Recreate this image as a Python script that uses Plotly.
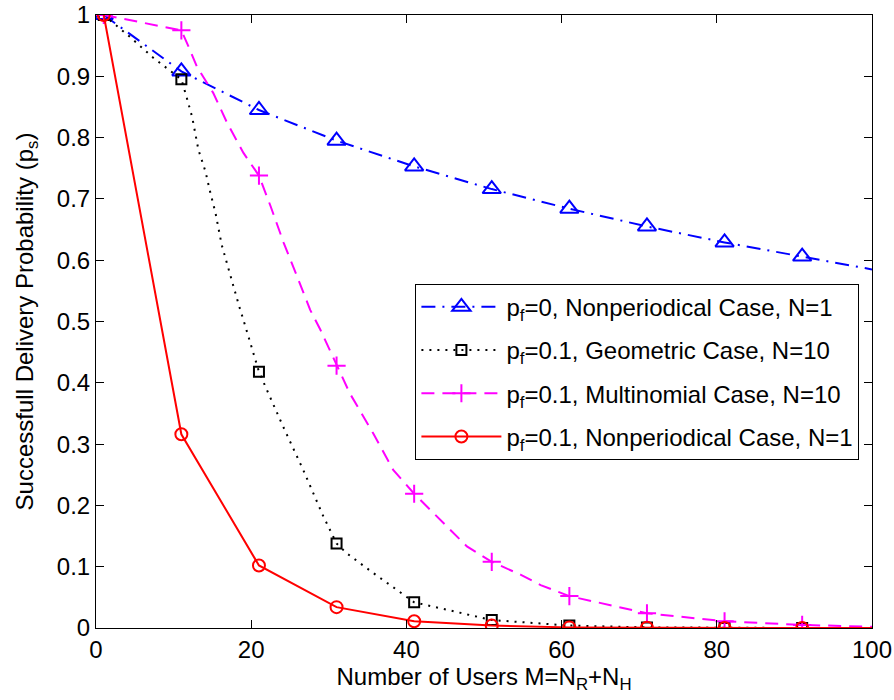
import plotly.graph_objects as go

# ---- data ----
x_markers = [1, 11, 21, 31, 41, 51, 61, 71, 81, 91]

blue_y = [1.0, 0.908, 0.845, 0.795, 0.753, 0.716, 0.684, 0.655, 0.629, 0.606]
blue_line_x = [1, 11, 21, 31, 41, 51, 61, 71, 81, 91, 100]
blue_line_y = [1.0, 0.908, 0.845, 0.795, 0.753, 0.716, 0.684, 0.655, 0.629, 0.606, 0.585]

black_y = [1.0, 0.895, 0.418, 0.138, 0.042, 0.013, 0.004, 0.001, 0.0, 0.0]
black_line_x = [1, 4.4, 7.4, 11, 11.7, 12.4, 13.2, 14.1, 14.7, 15.4, 16.2, 17.3, 18.4,
                19.3, 20.1, 21, 22, 24.1, 26.7, 29.3, 31, 32.3, 35.7, 38.7, 41,
                51, 61, 71, 81, 91, 100]
black_line_y = [1.0, 0.964, 0.93, 0.895, 0.865, 0.833, 0.78, 0.745, 0.712, 0.677, 0.625,
                0.574, 0.527, 0.49, 0.454, 0.418, 0.389, 0.329, 0.258, 0.182, 0.138,
                0.122, 0.09, 0.062, 0.042, 0.013, 0.004, 0.001, 0.0, 0.0, 0.0]

magenta_y = [1.0, 0.975, 0.738, 0.428, 0.219, 0.108, 0.052, 0.024, 0.011, 0.005]
magenta_line_x = [1, 11, 11.7, 13.0, 15.1, 16.9, 19.0, 21, 22.5, 24.2, 25.9, 27.6,
                  28.9, 31, 32.7, 35.7, 38.3, 41, 45.2, 47.8, 51, 54.7, 57.3, 61,
                  71, 81, 91, 100]
magenta_line_y = [1.0, 0.975, 0.955, 0.916, 0.873, 0.824, 0.775, 0.738, 0.688, 0.628,
                  0.574, 0.519, 0.487, 0.428, 0.383, 0.318, 0.258, 0.219, 0.165,
                  0.133, 0.108, 0.087, 0.07, 0.052, 0.024, 0.011, 0.005, 0.002]

red_y = [1.0, 0.316, 0.102, 0.034, 0.011, 0.004, 0.001, 0.0003, 0.0001, 0.0]
red_line_x = [1, 11, 21, 31, 41, 51, 61, 71, 81, 91, 100]
red_line_y = [1.0, 0.316, 0.102, 0.034, 0.011, 0.004, 0.001, 0.0003, 0.0001, 0.0, 0.0]

labels = [
    "p<sub>f</sub>=0, Nonperiodical Case, N=1",
    "p<sub>f</sub>=0.1, Geometric Case, N=10",
    "p<sub>f</sub>=0.1, Multinomial Case, N=10",
    "p<sub>f</sub>=0.1, Nonperiodical Case, N=1",
]

x_ticks = [0, 20, 40, 60, 80, 100]
y_ticks = [0, 0.1, 0.2, 0.3, 0.4, 0.5, 0.6, 0.7, 0.8, 0.9, 1]
y_ticktext = ["0", "0.1", "0.2", "0.3", "0.4", "0.5", "0.6", "0.7", "0.8", "0.9", "1"]

FONT = "Liberation Sans, Arial, Helvetica, sans-serif"
FS = 24

series = [
    dict(lx=blue_line_x, ly=blue_line_y, my=blue_y, color="#0000ff",
         dash="14px,7px,2px,7px", symbol="triangle-up-open", size=16, name=labels[0]),
    dict(lx=black_line_x, ly=black_line_y, my=black_y, color="#000000",
         dash="2px,6px", symbol="square-open", size=10, name=labels[1]),
    dict(lx=magenta_line_x, ly=magenta_line_y, my=magenta_y, color="#ff00ff",
         dash="13px,8px", symbol="cross-thin-open", size=13, name=labels[2]),
    dict(lx=red_line_x, ly=red_line_y, my=red_y, color="#ff0000",
         dash="solid", symbol="circle-open", size=12, name=labels[3]),
]

fig = go.Figure()
for i, s in enumerate(series):
    line = dict(color=s["color"], width=2, dash=s["dash"])
    marker = dict(symbol=s["symbol"], size=s["size"], color=s["color"],
                  line=dict(color=s["color"], width=2))
    fig.add_trace(go.Scatter(x=s["lx"], y=s["ly"], mode="lines", line=line,
                             showlegend=False, hoverinfo="skip", legendgroup=f"g{i}"))
    fig.add_trace(go.Scatter(x=x_markers, y=s["my"], mode="markers", marker=marker,
                             showlegend=False, legendgroup=f"g{i}"))
    fig.add_trace(go.Scatter(x=[None], y=[None], mode="lines+markers", line=line,
                             marker=marker, name=s["name"], legendgroup=f"g{i}"))

axis_common = dict(showline=True, linecolor="black", linewidth=1, mirror="ticks",
                   ticks="inside", ticklen=8, tickcolor="black", tickwidth=1,
                   showgrid=False, zeroline=False,
                   tickfont=dict(family=FONT, size=FS, color="black"))

fig.update_layout(
    width=894, height=700,
    margin=dict(l=96, r=22, t=15, b=72, autoexpand=False),
    plot_bgcolor="white", paper_bgcolor="white",
    font=dict(family=FONT, size=FS, color="black"),
    xaxis=dict(range=[0, 100], tickvals=x_ticks, **axis_common,
               title=dict(text="Number of Users M=N<sub>R</sub>+N<sub>H</sub>",
                          font=dict(family=FONT, size=FS, color="black"), standoff=2)),
    yaxis=dict(range=[0, 1], tickvals=y_ticks, ticktext=y_ticktext, **axis_common,
               title=dict(text="Successfull Delivery Probability (p<sub>s</sub>)",
                          font=dict(family=FONT, size=FS, color="black"), standoff=16)),
    legend=dict(x=0.4116, y=0.5616, xanchor="left", yanchor="top",
                bgcolor="white", bordercolor="black", borderwidth=1,
                font=dict(family=FONT, size=FS, color="black"),
                traceorder="grouped", tracegroupgap=9, itemwidth=80),
)

fig.write_html("out.html")
